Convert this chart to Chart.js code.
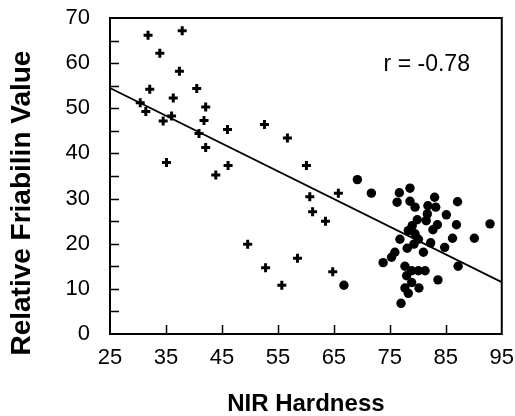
<!DOCTYPE html>
<html>
<head>
<meta charset="utf-8">
<script src="https://cdn.jsdelivr.net/npm/chart.js@4"></script>
<style>
  html, body { margin: 0; padding: 0; background: #fff; }
  #wrap { width: 515px; height: 416px; }
</style>
</head>
<body>
<div id="wrap"><canvas id="c"></canvas></div>
<script>
// soft wheat lines (+) and hard wheat lines (filled dots)
const softX = [31.8, 37.9, 33.9, 37.4, 32.1, 40.5, 36.3, 30.4, 31.4, 42.1, 36.0, 34.5, 41.8, 46.0, 40.9, 52.6,
               42.1, 56.7, 35.1, 46.1, 43.9, 60.1, 60.7, 65.8, 61.2, 63.5, 49.6, 52.8, 55.7, 58.5, 64.8];
const softY = [66.2, 67.2, 62.2, 58.2, 54.2, 54.4, 52.3, 51.2, 49.3, 50.3, 48.3, 47.2, 47.3, 45.3, 44.4, 46.4,
               41.3, 43.4, 38.0, 37.3, 35.2, 37.3, 30.4, 31.2, 27.1, 25.0, 19.9, 14.7, 10.8, 16.8, 13.8];

const hardX = [69.2, 71.7, 76.7, 78.6, 76.3, 78.6, 79.5, 83.0, 81.8, 83.2, 87.1, 81.7, 81.5, 85.1, 79.9, 79.0,
               83.5, 86.9, 92.9, 78.3, 82.7, 79.5, 76.8, 80.1, 86.2, 90.1, 79.3, 82.3, 78.1, 84.8, 81.0, 75.9,
               75.3, 73.8, 87.2, 77.7, 78.9, 81.3, 80.1, 78.0, 83.6, 78.9, 80.2, 77.7, 78.3, 77.0, 66.8];
const hardY = [34.2, 31.2, 31.3, 32.3, 29.2, 29.4, 28.1, 30.3, 28.4, 28.1, 29.3, 26.6, 25.1, 26.4, 25.3, 24.0,
               24.2, 24.2, 24.4, 22.9, 23.1, 22.2, 21.0, 21.0, 21.2, 21.2, 19.9, 20.2, 19.0, 19.2, 18.1, 18.1,
               17.0, 15.8, 15.0, 15.0, 14.0, 14.0, 14.0, 12.9, 12.0, 11.4, 10.2, 10.2, 9.0, 6.8, 10.8];

// regression line end points
const fitX = [25, 95];
const fitY = [54.5, 11.5];

const xTicks = [25, 35, 45, 55, 65, 75, 85, 95];
const rLabel = "r = -0.78";
const yTitle = "Relative Friabilin Value";

const FONT = "'Liberation Sans', Arial, sans-serif";
const pts = (xs, ys) => xs.map((x, i) => ({ x, y: ys[i] }));

// frame + inward tick marks + r annotation + y title (sits a bit low in the original)
const framePlugin = {
  id: "frame",
  afterDatasetsDraw(chart) {
    const { ctx, chartArea: a, scales: { x, y } } = chart;
    ctx.save();
    ctx.strokeStyle = "#000";
    ctx.lineWidth = 2;
    ctx.strokeRect(a.left, a.top, a.right - a.left, a.bottom - a.top);
    ctx.lineWidth = 1.5;
    ctx.beginPath();
    xTicks.slice(1, -1).forEach((v) => {
      const px = Math.round(x.getPixelForValue(v)) + 0.5;
      ctx.moveTo(px, a.bottom);
      ctx.lineTo(px, a.bottom - 9);
    });
    for (let v = 5; v < 70; v += 5) {
      const py = Math.round(y.getPixelForValue(v)) + 0.5;
      ctx.moveTo(a.left, py);
      ctx.lineTo(a.left + 9, py);
    }
    ctx.stroke();
    ctx.fillStyle = "#000";
    ctx.textAlign = "center";
    ctx.textBaseline = "middle";
    ctx.font = "23px " + FONT;
    ctx.fillText(rLabel, x.getPixelForValue(81.6), y.getPixelForValue(59.6));
    ctx.translate(22, y.getPixelForValue(29));
    ctx.rotate(-Math.PI / 2);
    ctx.font = "bold 28px " + FONT;
    ctx.fillText(yTitle, 0, 0);
    ctx.restore();
  },
};

new Chart(document.getElementById("c"), {
  type: "scatter",
  data: {
    datasets: [
      {
        label: "soft",
        data: pts(softX, softY),
        pointStyle: "cross",
        pointRadius: 4.5,
        borderWidth: 3,
        borderColor: "#000",
        backgroundColor: "#000",
      },
      {
        label: "hard",
        data: pts(hardX, hardY),
        pointStyle: "circle",
        pointRadius: 4.7,
        borderWidth: 0,
        backgroundColor: "#000",
      },
      {
        type: "line",
        label: "fit",
        data: pts(fitX, fitY),
        borderColor: "#000",
        borderWidth: 1.8,
        pointRadius: 0,
        fill: false,
      },
    ],
  },
  options: {
    responsive: true,
    maintainAspectRatio: false,
    animation: false,
    layout: { autoPadding: false, padding: { top: 18, right: 13, left: 0, bottom: 0 } },
    plugins: { legend: { display: false }, tooltip: { enabled: false } },
    scales: {
      x: {
        type: "linear",
        min: 25,
        max: 95,
        grid: { display: false, drawTicks: true, tickLength: 10 },
        border: { display: false },
        afterBuildTicks: (s) => { s.ticks = xTicks.map((v) => ({ value: v })); },
        ticks: { padding: 1, color: "#000", font: { family: FONT, size: 22 }, maxRotation: 0 },
        title: {
          display: true,
          text: "NIR Hardness",
          color: "#000",
          font: { family: FONT, size: 24, weight: "bold", lineHeight: 1 },
          padding: { top: 1, bottom: 0 },
        },
        afterFit: (s) => { s.height = 82; },
      },
      y: {
        min: 0,
        max: 70,
        grid: { display: false, drawTicks: true, tickLength: 17 },
        border: { display: false },
        ticks: {
          stepSize: 10,
          padding: 3,
          color: "#000",
          font: { family: FONT, size: 22 },
        },
        afterFit: (s) => { s.width = 110; },
      },
    },
  },
  plugins: [framePlugin],
});
</script>
</body>
</html>
